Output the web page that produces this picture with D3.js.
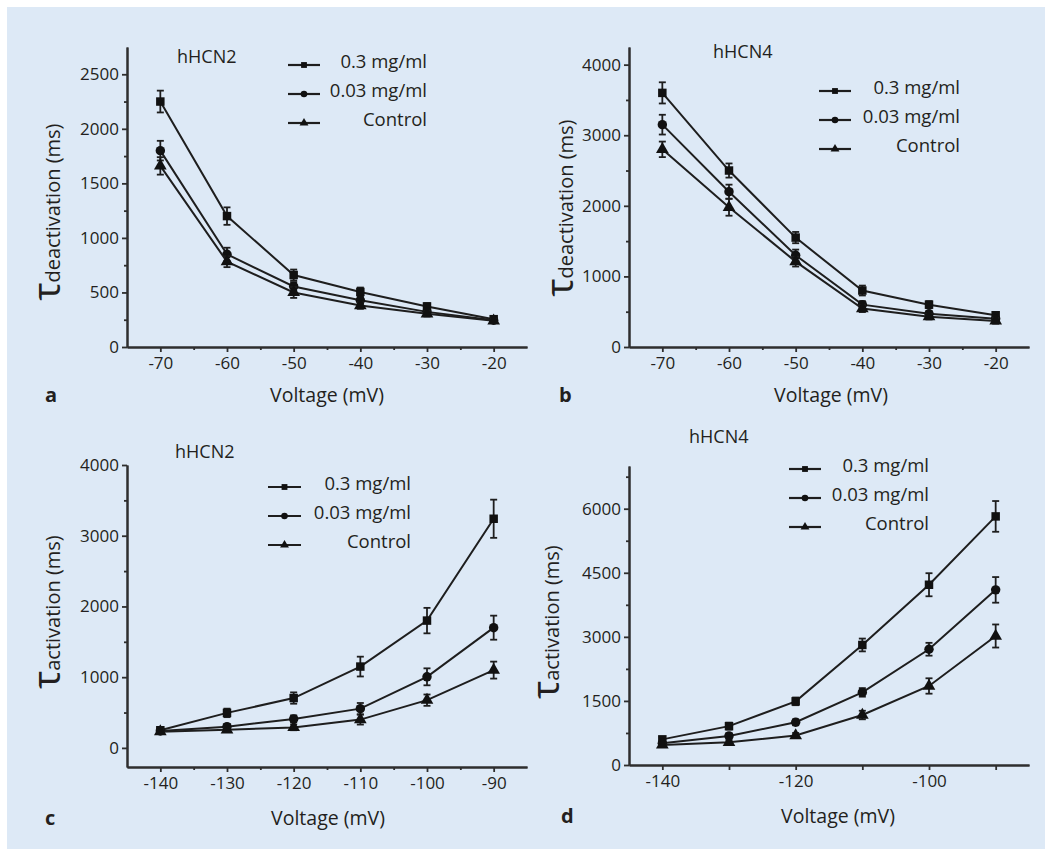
<!DOCTYPE html>
<html>
<head>
<meta charset="utf-8">
<script src="https://cdn.jsdelivr.net/npm/d3@7"></script>
<style>
  body { margin: 0; background: #ffffff; }
  svg { display: block; font-family: "Open Sans", "Noto Sans", sans-serif; }
</style>
</head>
<body>
<svg id="chart" width="1052" height="856"></svg>
<script>
// series names, same in every panel
var seriesNames = ["0.3 mg/ml", "0.03 mg/ml", "Control"];

// voltages (mV)
var voltDeact = [-70, -60, -50, -40, -30, -20];
var voltAct = [-140, -130, -120, -110, -100, -90];

// a: hHCN2 deactivation (ms)
var aHigh = [2250, 1200, 660, 505, 372, 255];
var aLow = [1800, 850, 555, 428, 322, 245];
var aCtrl = [1660, 782, 500, 380, 305, 240];
var aHighErr = [100, 80, 50, 40, 30, 25];
var aLowErr = [90, 60, 40, 30, 25, 20];
var aCtrlErr = [80, 50, 50, 30, 25, 20];

// b: hHCN4 deactivation (ms)
var bHigh = [3600, 2500, 1550, 800, 600, 450];
var bLow = [3150, 2200, 1300, 600, 470, 400];
var bCtrl = [2800, 1980, 1210, 545, 430, 370];
var bHighErr = [150, 100, 80, 70, 50, 40];
var bLowErr = [140, 100, 80, 50, 40, 40];
var bCtrlErr = [110, 120, 70, 50, 40, 40];

// c: hHCN2 activation (ms)
var cHigh = [250, 495, 705, 1150, 1800, 3240];
var cLow = [240, 300, 410, 555, 1005, 1700];
var cCtrl = [230, 255, 290, 400, 675, 1100];
var cHighErr = [40, 60, 80, 140, 180, 270];
var cLowErr = [30, 40, 50, 80, 120, 170];
var cCtrlErr = [30, 30, 40, 70, 80, 120];

// d: hHCN4 activation (ms)
var dHigh = [600, 910, 1490, 2810, 4220, 5820];
var dLow = [510, 680, 1000, 1700, 2710, 4100];
var dCtrl = [470, 530, 690, 1170, 1850, 3020];
var dHighErr = [60, 80, 90, 150, 270, 360];
var dLowErr = [50, 60, 70, 100, 150, 300];
var dCtrlErr = [40, 50, 60, 100, 180, 270];

// tick values
var aYTicks = [0, 500, 1000, 1500, 2000, 2500];
var aYMinor = [250, 750, 1250, 1750, 2250];
var bYTicks = [0, 1000, 2000, 3000, 4000];
var bYMinor = [500, 1500, 2500, 3500];
var cYTicks = [0, 1000, 2000, 3000, 4000];
var cYMinor = [500, 1500, 2500, 3500];
var dYTicks = [0, 1500, 3000, 4500, 6000];
var dYMinor = [750, 2250, 3750, 5250, 6750];
var deactXMinor = [-65, -55, -45, -35, -25];
var cXMinor = [-135, -125, -115, -105, -95];
var dXLabels = [-140, -120, -100];

var ink = "#231f20";
var axisInk = "#2e2e2e";
var symbols = [d3.symbolSquare, d3.symbolCircle, d3.symbolTriangle];
var symbolSizes = [72, 70, 70];

var svg = d3.select("#chart");

svg.append("rect")
    .attr("x", 7).attr("y", 7)
    .attr("width", 1038).attr("height", 842)
    .attr("fill", "#dde9f6");

var panels = [
    {
        letter: "a", title: "hHCN2", ylab: "deactivation (ms)",
        x: voltDeact, series: [aHigh, aLow, aCtrl], errs: [aHighErr, aLowErr, aCtrlErr],
        xDomain: [-75, -15], xRange: [127, 527], yDomain: [0, 2750], yRange: [347, 47],
        xTicks: voltDeact, xLabels: voltDeact, xMinor: deactXMinor,
        yTicks: aYTicks, yMinor: aYMinor,
        titlePos: [177, 63], legend: { x1: 288, x2: 320, right: 427, y: 65 },
        ylabPos: [60, 212], letterPos: [45, 402], xlabPos: [327, 402]
    },
    {
        letter: "b", title: "hHCN4", ylab: "deactivation (ms)",
        x: voltDeact, series: [bHigh, bLow, bCtrl], errs: [bHighErr, bLowErr, bCtrlErr],
        xDomain: [-75, -15], xRange: [629, 1029], yDomain: [0, 4250], yRange: [347, 47],
        xTicks: voltDeact, xLabels: voltDeact, xMinor: deactXMinor,
        yTicks: bYTicks, yMinor: bYMinor,
        titlePos: [713, 58], legend: { x1: 819, x2: 851, right: 960, y: 91 },
        ylabPos: [573, 208], letterPos: [559, 402], xlabPos: [831, 402]
    },
    {
        letter: "c", title: "hHCN2", ylab: "activation (ms)",
        x: voltAct, series: [cHigh, cLow, cCtrl], errs: [cHighErr, cLowErr, cCtrlErr],
        xDomain: [-145, -85], xRange: [127, 527], yDomain: [-270, 4000], yRange: [767, 465],
        xTicks: voltAct, xLabels: voltAct, xMinor: cXMinor,
        yTicks: cYTicks, yMinor: cYMinor,
        titlePos: [175, 458], legend: { x1: 268, x2: 301, right: 411, y: 487 },
        ylabPos: [60, 612], letterPos: [45, 825], xlabPos: [328, 825]
    },
    {
        letter: "d", title: "hHCN4", ylab: "activation (ms)",
        x: voltAct, series: [dHigh, dLow, dCtrl], errs: [dHighErr, dLowErr, dCtrlErr],
        xDomain: [-145, -85], xRange: [629, 1029], yDomain: [0, 7000], yRange: [765, 466],
        xTicks: voltAct, xLabels: dXLabels, xMinor: [],
        yTicks: dYTicks, yMinor: dYMinor,
        titlePos: [689, 443], legend: { x1: 789, x2: 821, right: 929, y: 469 },
        ylabPos: [559, 622], letterPos: [561, 823], xlabPos: [838, 823]
    }
];

panels.forEach(function (p) {
    var x = d3.scaleLinear().domain(p.xDomain).range(p.xRange);
    var y = d3.scaleLinear().domain(p.yDomain).range(p.yRange);
    var g = svg.append("g");
    var x0 = p.xRange[0], y0 = p.yRange[0];

    // minor ticks first, then the main axes on top
    g.append("g")
        .attr("transform", "translate(0," + y0 + ")")
        .call(d3.axisBottom(x).tickValues(p.xMinor).tickSize(3).tickSizeOuter(0).tickFormat(""));
    g.append("g")
        .attr("transform", "translate(" + x0 + ",0)")
        .call(d3.axisLeft(y).tickValues(p.yMinor).tickSize(3).tickSizeOuter(0).tickFormat(""));

    g.append("g")
        .attr("transform", "translate(0," + y0 + ")")
        .call(d3.axisBottom(x)
            .tickValues(p.xTicks)
            .tickSize(5)
            .tickSizeOuter(0)
            .tickPadding(5)
            .tickFormat(function (d) { return p.xLabels.indexOf(d) >= 0 ? String(d) : ""; }));
    g.append("g")
        .attr("transform", "translate(" + x0 + ",0)")
        .call(d3.axisLeft(y)
            .tickValues(p.yTicks)
            .tickSize(5)
            .tickSizeOuter(0)
            .tickPadding(3)
            .tickFormat(function (d) { return String(d); }));

    g.selectAll(".domain").attr("stroke", axisInk).attr("stroke-width", 2);
    g.selectAll(".tick line").attr("stroke", axisInk).attr("stroke-width", 1.8);
    g.selectAll(".tick text")
        .attr("fill", ink)
        .style("font-size", "17px")
        .style("font-family", "'Open Sans', 'Noto Sans', sans-serif");

    // lines, error bars, markers
    p.series.forEach(function (vals, si) {
        var pts = vals.map(function (v, i) { return { x: p.x[i], y: v, e: p.errs[si][i] }; });

        g.append("path")
            .datum(pts)
            .attr("fill", "none")
            .attr("stroke", "#1e1e1e")
            .attr("stroke-width", 2)
            .attr("d", d3.line().x(function (d) { return x(d.x); }).y(function (d) { return y(d.y); }));

        var eb = g.append("g").selectAll("g").data(pts).enter().append("g");
        eb.append("line")
            .attr("x1", function (d) { return x(d.x); })
            .attr("x2", function (d) { return x(d.x); })
            .attr("y1", function (d) { return y(d.y - d.e); })
            .attr("y2", function (d) { return y(d.y + d.e); })
            .attr("stroke", "#1e1e1e").attr("stroke-width", 1.8);
        [-1, 1].forEach(function (sgn) {
            eb.append("line")
                .attr("x1", function (d) { return x(d.x) - 3.5; })
                .attr("x2", function (d) { return x(d.x) + 3.5; })
                .attr("y1", function (d) { return y(d.y + sgn * d.e); })
                .attr("y2", function (d) { return y(d.y + sgn * d.e); })
                .attr("stroke", "#1e1e1e").attr("stroke-width", 1.8);
        });

        g.append("g").selectAll("path").data(pts).enter().append("path")
            .attr("transform", function (d) { return "translate(" + x(d.x) + "," + y(d.y) + ")"; })
            .attr("d", d3.symbol().type(symbols[si]).size(symbolSizes[si]))
            .attr("fill", "#111");
    });

    // panel title
    g.append("text")
        .attr("x", p.titlePos[0]).attr("y", p.titlePos[1])
        .attr("fill", ink)
        .style("font-size", "18px")
        .text(p.title);

    // legend
    seriesNames.forEach(function (name, si) {
        var ly = p.legend.y + si * 29;
        g.append("line")
            .attr("x1", p.legend.x1).attr("x2", p.legend.x2)
            .attr("y1", ly).attr("y2", ly)
            .attr("stroke", "#1e1e1e").attr("stroke-width", 2.2);
        g.append("path")
            .attr("transform", "translate(" + ((p.legend.x1 + p.legend.x2) / 2) + "," + ly + ")")
            .attr("d", d3.symbol().type(symbols[si]).size(34))
            .attr("fill", "#111");
        g.append("text")
            .attr("x", p.legend.right).attr("y", ly + 3)
            .attr("text-anchor", "end")
            .attr("fill", ink)
            .style("font-size", "18.5px")
            .text(name);
    });

    // y label with big tau
    var yl = g.append("text")
        .attr("transform", "translate(" + p.ylabPos[0] + "," + p.ylabPos[1] + ") rotate(-90)")
        .attr("text-anchor", "middle")
        .attr("fill", ink);
    yl.append("tspan").style("font-size", "38px").text("τ");
    yl.append("tspan").style("font-size", "20px").text(p.ylab);

    // x label
    g.append("text")
        .attr("x", p.xlabPos[0]).attr("y", p.xlabPos[1])
        .attr("text-anchor", "middle")
        .attr("fill", ink)
        .style("font-size", "19.5px")
        .text("Voltage (mV)");

    // panel letter
    g.append("text")
        .attr("x", p.letterPos[0]).attr("y", p.letterPos[1])
        .attr("fill", ink)
        .style("font-size", "20px")
        .style("font-weight", "bold")
        .text(p.letter);
});
</script>
</body>
</html>
